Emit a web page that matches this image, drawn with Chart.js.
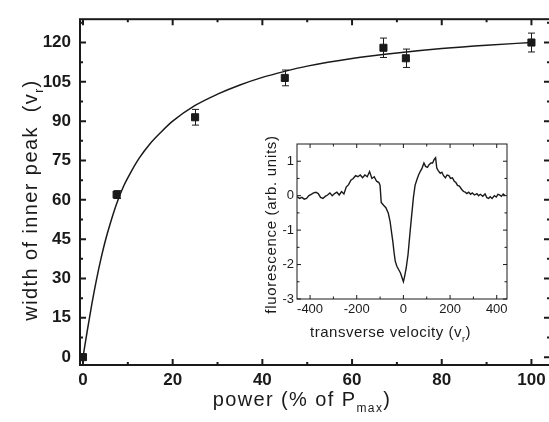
<!DOCTYPE html>
<html>
<head>
<meta charset="utf-8">
<script src="https://cdn.jsdelivr.net/npm/chart.js@4.4.1/dist/chart.umd.min.js"></script>
<style>
  html, body { margin: 0; padding: 0; overflow: hidden; background: #fff; }
  #wrap { position: relative; width: 549px; height: 422px; overflow: hidden; }
  #mainChart { position: absolute; left: 0; top: 0; }
  #insetChart { position: absolute; left: 250px; top: 125px; }
</style>
</head>
<body>
<div id="wrap">
  <canvas id="mainChart" width="556" height="422"></canvas>
  <canvas id="insetChart" width="265" height="225"></canvas>
</div>
<script>
// main plot: measured points with error bars
const powerPct = [0, 7.5, 25, 45, 67, 72, 100];
const peakWidth = [0, 62, 91.5, 106.5, 118, 114, 120];
const peakErr = [0, 1.5, 3, 3, 3.7, 3.5, 3.6];

// fitted curve
const fitPower = [0, 1, 2, 3, 4, 5, 6, 7.5, 9, 10.5, 12.5, 15, 17.5, 20, 25, 30, 35, 40, 45, 50, 60, 70, 80, 90, 100];
const fitWidth = [0, 10.5, 20.5, 29.5, 37.5, 44.5, 50.5, 58.5, 65, 70, 75.8, 81.5, 86, 90, 96, 100.3, 103.8, 106.7, 109, 111, 113.9, 116, 117.7, 119, 120];

// inset: fluorescence vs transverse velocity
const velocity = [-455, -445, -435, -425, -415, -405, -395, -385, -375, -365, -355, -345, -335, -325, -315, -305, -295, -285, -275, -265, -255, -245, -235, -225, -215, -205, -195, -185, -175, -165, -155, -145, -135, -125, -115, -105, -100, -95, -85, -75, -65, -57, -50, -45, -40, -35, -28, -20, -12, -5, 0, 5, 12, 20, 28, 35, 43, 50, 57, 65, 72, 80, 88, 95, 103, 110, 118, 125, 132, 138, 143, 150, 158, 165, 172, 180, 187, 195, 202, 210, 218, 225, 232, 240, 250, 258, 265, 272, 280, 288, 295, 305, 315, 322, 330, 340, 350, 358, 365, 372, 380, 390, 398, 405, 412, 420, 428, 436];
const fluor = [-0.03, -0.08, -0.05, -0.1, -0.08, 0.0, 0.04, 0.08, 0.1, 0.06, -0.05, -0.08, -0.02, 0.02, 0.08, 0.0, 0.06, 0.1, 0.02, 0.12, 0.05, 0.25, 0.32, 0.45, 0.5, 0.58, 0.55, 0.6, 0.52, 0.6, 0.55, 0.7, 0.5, 0.55, 0.42, 0.38, 0.3, -0.2, -0.28, -0.35, -0.5, -0.75, -1.1, -1.35, -1.65, -1.9, -2.05, -2.15, -2.25, -2.4, -2.5, -2.35, -2.1, -1.7, -1.1, -0.6, -0.05, 0.3, 0.45, 0.6, 0.7, 0.8, 0.95, 0.85, 0.82, 0.9, 0.95, 0.95, 1.05, 1.1, 0.8, 0.72, 0.65, 0.68, 0.58, 0.52, 0.6, 0.58, 0.5, 0.52, 0.42, 0.38, 0.3, 0.28, 0.18, 0.12, 0.1, 0.06, 0.1, 0.04, 0.08, 0.02, 0.06, 0.0, 0.04, -0.02, 0.05, -0.06, -0.08, -0.03, -0.08, 0.0, -0.04, 0.04, 0.02, -0.02, 0.05, 0.0];

// tick values
const mainXTicks = [0, 20, 40, 60, 80, 100];
const mainXMinor = [10, 30, 50, 70, 90];
const mainYTicks = [0, 15, 30, 45, 60, 75, 90, 105, 120];
const mainYMinor = [7.5, 22.5, 37.5, 52.5, 67.5, 82.5, 97.5, 112.5, 127.5];
const insetXTicks = [-400, -200, 0, 200, 400];
const insetXMinor = [-300, -100, 100, 300];
const insetYTicks = [-3, -2, -1, 0, 1];
const insetYMinor = [-2.5, -1.5, -0.5, 0.5];

const INK = '#1a1a1a';
const FONT = '"Liberation Sans", Arial, Helvetica, sans-serif';

function drawRich(ctx, parts, x, y, size, spacing, angle) {
  ctx.save();
  ctx.translate(x, y);
  ctx.rotate(angle);
  ctx.letterSpacing = spacing + 'px';
  ctx.fillStyle = INK;
  ctx.textAlign = 'left';
  ctx.textBaseline = 'alphabetic';
  const fontFor = p => (p.sub ? Math.round(size * 0.62) : size) + 'px ' + FONT;
  let total = 0;
  parts.forEach(p => { ctx.font = fontFor(p); total += ctx.measureText(p.text).width; });
  let cx = -total / 2;
  parts.forEach(p => {
    ctx.font = fontFor(p);
    ctx.fillText(p.text, cx, p.sub ? size * 0.3 : 0);
    cx += ctx.measureText(p.text).width;
  });
  ctx.restore();
}

// box round the plot area with inward ticks on every side
const framePlugin = {
  id: 'frame',
  afterDatasetsDraw(chart, args, o) {
    const { ctx, chartArea: a, scales: { x, y } } = chart;
    ctx.save();
    ctx.strokeStyle = INK;
    ctx.lineWidth = o.width;
    ctx.strokeRect(a.left, a.top, a.right - a.left, a.bottom - a.top);
    ctx.lineWidth = o.tickWidth;
    ctx.beginPath();
    const xt = o.xMajor.map(v => [v, o.major]).concat(o.xMinor.map(v => [v, o.minor]));
    const yt = o.yMajor.map(v => [v, o.major]).concat(o.yMinor.map(v => [v, o.minor]));
    xt.forEach(([v, len]) => {
      const px = x.getPixelForValue(v);
      ctx.moveTo(px, a.bottom); ctx.lineTo(px, a.bottom - len);
      ctx.moveTo(px, a.top); ctx.lineTo(px, a.top + len);
    });
    yt.forEach(([v, len]) => {
      const py = y.getPixelForValue(v);
      ctx.moveTo(a.left, py); ctx.lineTo(a.left + len, py);
      ctx.moveTo(a.right, py); ctx.lineTo(a.right - len, py);
    });
    ctx.stroke();
    ctx.restore();
  }
};

// vertical error bars with caps
const errorBarPlugin = {
  id: 'errorBars',
  afterDatasetsDraw(chart, args, o) {
    if (!o.err) return;
    const { ctx, scales: { x, y } } = chart;
    ctx.save();
    ctx.strokeStyle = INK;
    ctx.lineWidth = 1;
    ctx.beginPath();
    o.err.forEach((e, i) => {
      if (!e) return;
      const px = Math.round(x.getPixelForValue(o.xs[i])) + 0.5;
      const top = y.getPixelForValue(o.ys[i] + e);
      const bot = y.getPixelForValue(o.ys[i] - e);
      ctx.moveTo(px, top); ctx.lineTo(px, bot);
      ctx.moveTo(px - 3.5, top); ctx.lineTo(px + 3.5, top);
      ctx.moveTo(px - 3.5, bot); ctx.lineTo(px + 3.5, bot);
    });
    ctx.stroke();
    ctx.restore();
  }
};

// axis titles with subscripts
const titlesPlugin = {
  id: 'titles',
  afterDraw(chart, args, o) {
    o.items.forEach(t => drawRich(chart.ctx, t.parts, t.x, t.y, t.size, t.spacing, t.angle || 0));
  }
};

function fixedTicks(values) {
  return scale => { scale.ticks = values.map(v => ({ value: v })); };
}

new Chart(document.getElementById('mainChart'), {
  type: 'scatter',
  data: {
    datasets: [{
      data: powerPct.map((p, i) => ({ x: p, y: peakWidth[i] })),
      pointStyle: 'rect',
      pointRadius: 5,
      backgroundColor: INK,
      borderColor: INK,
      borderWidth: 1,
      order: 1
    }, {
      data: fitPower.map((p, i) => ({ x: p, y: fitWidth[i] })),
      showLine: true,
      pointRadius: 0,
      borderColor: INK,
      borderWidth: 1.5,
      cubicInterpolationMode: 'monotone',
      order: 2
    }]
  },
  options: {
    responsive: false,
    animation: false,
    events: [],
    layout: { padding: { top: 13, right: 3, left: 0, bottom: 0 } },
    plugins: {
      legend: { display: false },
      tooltip: { enabled: false },
      frame: { width: 2, tickWidth: 2, major: 6, minor: 3,
        xMajor: mainXTicks, xMinor: mainXMinor, yMajor: mainYTicks, yMinor: mainYMinor },
      errorBars: { xs: powerPct, ys: peakWidth, err: peakErr },
      titles: { items: [
        { parts: [{ text: 'power (% of P' }, { text: 'max', sub: true }, { text: ')' }],
          x: 302, y: 406, size: 20, spacing: 1.4 },
        { parts: [{ text: 'width of inner peak  (v' }, { text: 'r', sub: true }, { text: ')' }],
          x: 36.5, y: 200, size: 20, spacing: 1.4, angle: -Math.PI / 2 }
      ] }
    },
    scales: {
      x: {
        type: 'linear', min: -0.665, max: 104.14,
        afterBuildTicks: fixedTicks(mainXTicks),
        afterFit: s => { s.height = 57; },
        grid: { display: false, drawTicks: false },
        border: { display: false },
        ticks: { padding: 5, color: INK, font: { family: FONT, size: 17, weight: 'bold' } }
      },
      y: {
        min: -3, max: 128.9,
        afterBuildTicks: fixedTicks(mainYTicks),
        afterFit: s => { s.width = 80; },
        grid: { display: false, drawTicks: false },
        border: { display: false },
        ticks: { padding: 9, color: INK, font: { family: FONT, size: 17, weight: 'bold' } }
      }
    }
  },
  plugins: [framePlugin, errorBarPlugin, titlesPlugin]
});

new Chart(document.getElementById('insetChart'), {
  type: 'scatter',
  data: {
    datasets: [{
      data: velocity.map((v, i) => ({ x: v, y: fluor[i] })),
      showLine: true,
      pointRadius: 0,
      borderColor: INK,
      borderWidth: 1.4,
      tension: 0
    }]
  },
  options: {
    responsive: false,
    animation: false,
    events: [],
    layout: { padding: { top: 19, right: 8, left: 0, bottom: 0 } },
    plugins: {
      legend: { display: false },
      tooltip: { enabled: false },
      frame: { width: 1, tickWidth: 1, major: 4, minor: 2.5,
        xMajor: insetXTicks, xMinor: insetXMinor, yMajor: insetYTicks, yMinor: insetYMinor },
      errorBars: {},
      titles: { items: [
        { parts: [{ text: 'transverse velocity (v' }, { text: 'r', sub: true }, { text: ')' }],
          x: 140.5, y: 212, size: 15, spacing: 0.5 },
        { parts: [{ text: 'fluorescence (arb. units)' }],
          x: 26, y: 99.5, size: 15, spacing: 0.7, angle: -Math.PI / 2 }
      ] }
    },
    scales: {
      x: {
        type: 'linear', min: -456, max: 444,
        afterBuildTicks: fixedTicks(insetXTicks),
        afterFit: s => { s.height = 51; },
        grid: { display: false, drawTicks: false },
        border: { display: false },
        ticks: { padding: 3, color: INK, font: { family: FONT, size: 13 } }
      },
      y: {
        min: -3, max: 1.5,
        afterBuildTicks: fixedTicks(insetYTicks),
        afterFit: s => { s.width = 47; },
        grid: { display: false, drawTicks: false },
        border: { display: false },
        ticks: { padding: 3, color: INK, font: { family: FONT, size: 13 } }
      }
    }
  },
  plugins: [framePlugin, errorBarPlugin, titlesPlugin]
});
</script>
</body>
</html>
